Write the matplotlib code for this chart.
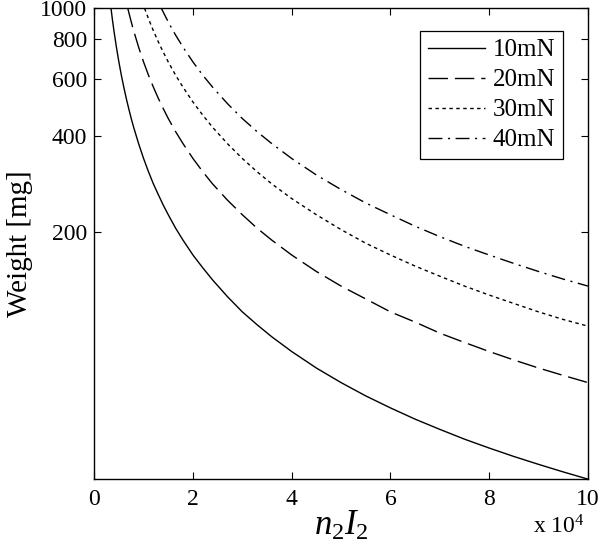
import matplotlib
matplotlib.use("Agg")
import matplotlib.pyplot as plt
from matplotlib.ticker import FixedLocator, NullLocator, FixedFormatter

plt.rcParams['font.family'] = ['Liberation Serif', 'DejaVu Serif']
plt.rcParams['mathtext.fontset'] = 'custom'
plt.rcParams['mathtext.it'] = 'Liberation Serif:italic'
plt.rcParams['mathtext.rm'] = 'Liberation Serif'

# values (x in units of 1e4)
x_10 = [0.34, 0.37, 0.4, 0.45, 0.5, 0.55, 0.6, 0.65, 0.7, 0.75, 0.8, 0.9, 1.0, 1.1, 1.2, 1.3, 1.4, 1.5,
        1.65, 1.8, 2.0, 2.2, 2.4, 2.7, 3.0, 3.3, 3.6, 4.0, 4.5, 5.0, 5.5, 6.0, 6.5, 7.0, 7.5, 8.0, 8.5, 9.0, 9.5, 10.0]
w_10 = [1000, 919, 850, 756, 680, 618, 567, 523, 486, 453, 425, 378, 340, 309, 283, 262, 243, 227,
        206, 189, 170, 155, 142, 126, 113, 103, 94.4, 85, 75.5, 68, 61.8, 56.7, 52.3, 48.6, 45.3, 42.5, 40, 37.8, 35.8, 34]

x_20 = [0.68, 0.74, 0.8, 0.9, 1.0, 1.1, 1.2, 1.3, 1.4, 1.5, 1.65, 1.8, 2.0, 2.2, 2.4, 2.7, 3.0, 3.3, 3.6,
        4.0, 4.5, 5.0, 5.5, 6.0, 6.5, 7.0, 7.5, 8.0, 8.5, 9.0, 9.5, 10.0]
w_20 = [1000, 919, 850, 756, 680, 618, 567, 523, 486, 453, 412, 378, 340, 309, 283, 252, 227, 206, 189,
        170, 151, 136, 124, 113, 105, 97, 90.7, 85, 80, 75.5, 71.6, 68]

x_30 = [1.02, 1.1, 1.2, 1.3, 1.4, 1.5, 1.65, 1.8, 2.0, 2.2, 2.4, 2.7, 3.0, 3.3, 3.6, 4.0, 4.5, 5.0, 5.5,
        6.0, 6.5, 7.0, 7.5, 8.0, 8.5, 9.0, 9.5, 10.0]
w_30 = [1000, 927, 850, 785, 729, 680, 618, 567, 510, 464, 425, 378, 340, 309, 283, 255, 227, 204, 185,
        170, 157, 146, 136, 127.5, 120, 113, 107, 102]

x_40 = [1.36, 1.45, 1.55, 1.65, 1.8, 2.0, 2.2, 2.4, 2.7, 3.0, 3.3, 3.6, 4.0, 4.5, 5.0, 5.5, 6.0, 6.5,
        7.0, 7.5, 8.0, 8.5, 9.0, 9.5, 10.0]
w_40 = [1000, 938, 877, 824, 756, 680, 618, 567, 504, 453, 412, 378, 340, 302, 272, 247, 227, 209,
        194, 181, 170, 160, 151, 143, 136]

labels = ['10mN', '20mN', '30mN', '40mN']
y_ticks = [200, 400, 600, 800, 1000]
x_ticks = [0, 2, 4, 6, 8, 10]

fig = plt.figure(figsize=(6, 5.52), dpi=100)
ax = fig.add_axes([0.157, 0.132, 0.823, 0.853])

ax.plot(x_10, w_10, color='black', lw=1.0, ls='-', label=labels[0])
ax.plot(x_20, w_20, color='black', lw=1.0, ls=(0, (14, 5)), label=labels[1])
ax.plot(x_30, w_30, color='black', lw=1.0, ls=(0, (2.5, 2.5)), label=labels[2])
ax.plot(x_40, w_40, color='black', lw=1.0, ls=(0, (10, 4, 1.5, 4)), label=labels[3])

ax.set_yscale('log')
ax.set_xlim(0, 10)
ax.set_ylim(34, 1000)
ax.yaxis.set_major_locator(FixedLocator(y_ticks))
ax.yaxis.set_major_formatter(FixedFormatter([str(v) for v in y_ticks]))
ax.yaxis.set_minor_locator(NullLocator())
ax.set_xticks(x_ticks)
ax.set_xticklabels([str(v) for v in x_ticks])

ax.tick_params(direction='in', top=True, right=True, length=5, width=0.8, labelsize=17)
ax.tick_params(axis='x', pad=7)
ax.tick_params(axis='y', pad=5)
for s in ax.spines.values():
    s.set_linewidth(1.0)

ax.set_ylabel('Weight [mg]', fontsize=21, labelpad=5)
ax.set_xlabel('$n_2I_2$', fontsize=25, labelpad=0)
fig.text(0.975, 0.034, r'x 10$^4$', fontsize=17, ha='right', va='baseline')

leg = ax.legend(loc='upper right', bbox_to_anchor=(0.949, 0.951), borderaxespad=0, fontsize=18,
                frameon=True, fancybox=False, edgecolor='black', framealpha=1,
                handlelength=2.3, handletextpad=0.3, borderpad=0.3, labelspacing=0.3)
leg.get_frame().set_linewidth(0.9)

fig.savefig('out.png', dpi=100)
